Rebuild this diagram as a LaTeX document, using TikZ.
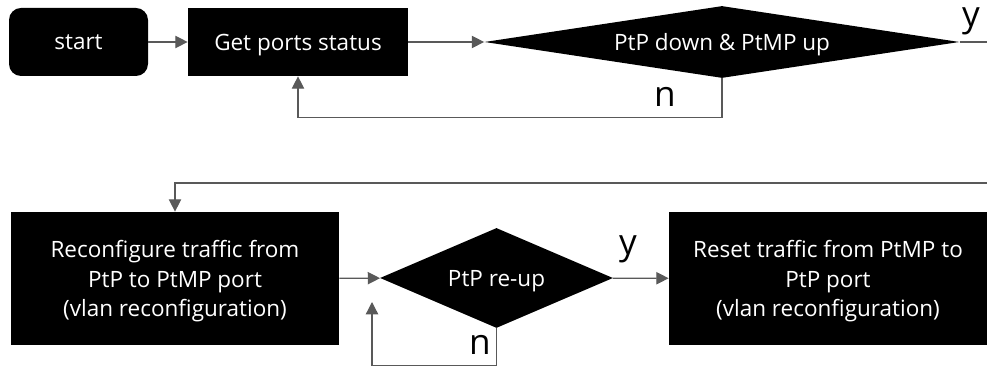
\documentclass[tikz,border=0pt]{standalone}
\usepackage{fontspec}
\setmainfont{Open Sans}
\usetikzlibrary{shapes.geometric, arrows.meta}

\begin{document}
\begin{tikzpicture}[>={Triangle[length=7pt, width=7pt]},
    flow/.style={->, draw=black!65, line width=0.7pt},
    blok/.style={draw=none, fill=black, text=white, rectangle, align=center,
                 inner sep=0pt, text depth=0pt, font=\fontsize{12.8}{17}\selectfont},
    keputusan/.style={draw=none, fill=black, text=white, diamond, inner sep=0pt,
                 text depth=0pt, font=\fontsize{12.8}{17}\selectfont},
    jawab/.style={font=\fontsize{20}{20}\selectfont, inner sep=0pt}]

    \useasboundingbox (0,0) rectangle (19.74,7.4);

    % Baris atas
    \node[blok, rounded corners=0.24cm, minimum width=2.78cm, minimum height=1.36cm] (start) at (1.57,6.56) {start};
    \node[blok, minimum width=4.4cm, minimum height=1.36cm] (get) at (5.96,6.56) {Get ports status};
    \node[keputusan, aspect=6.6, minimum width=9.5cm, minimum height=1.44cm] (d1) at (14.44,6.56) {PtP down \& PtMP up};

    % Baris bawah
    \node[blok, minimum width=6.56cm, minimum height=2.66cm] (reconf) at (3.5,1.83)
         {Reconfigure traffic from\\PtP to PtMP port\\(vlan reconfiguration)};
    \node[keputusan, aspect=2.33, minimum width=4.66cm, minimum height=2cm] (d2) at (9.93,1.84) {PtP re-up};
    \node[blok, minimum width=6.36cm, minimum height=2.66cm] (reset) at (16.56,1.83)
         {Reset traffic from PtMP to\\PtP port\\(vlan reconfiguration)};

    % Titik bantu di tepi kanan
    \coordinate (kanan1) at (19.74,6.56);
    \coordinate (kanan2) at (19.74,3.74);
    \coordinate (balik) at (7.44,1.36);

    % Sisi
    \draw[flow] (start) -- (get);
    \draw[flow] (get) -- (d1);
    \draw[draw=black!65, line width=0.7pt] (d1.east) -- (kanan1);
    \draw[flow] (d1.south) -- ++(0,-0.78) -| (get.south);
    \draw[flow] (kanan2) -| (reconf.north);
    \draw[flow] (reconf) -- (d2);
    \draw[flow] (d2) -- (reset);
    \draw[flow] (d2.south) -- ++(0,-0.74) -| (balik);

    % Label y / n
    \node[jawab] (y1) at (19.42,6.98) {y};
    \node[jawab] (n1) at (13.3,5.46) {n};
    \node[jawab] (y2) at (12.56,2.42) {y};
    \node[jawab] (n2) at (9.6,0.5) {n};

\end{tikzpicture}
\end{document}
